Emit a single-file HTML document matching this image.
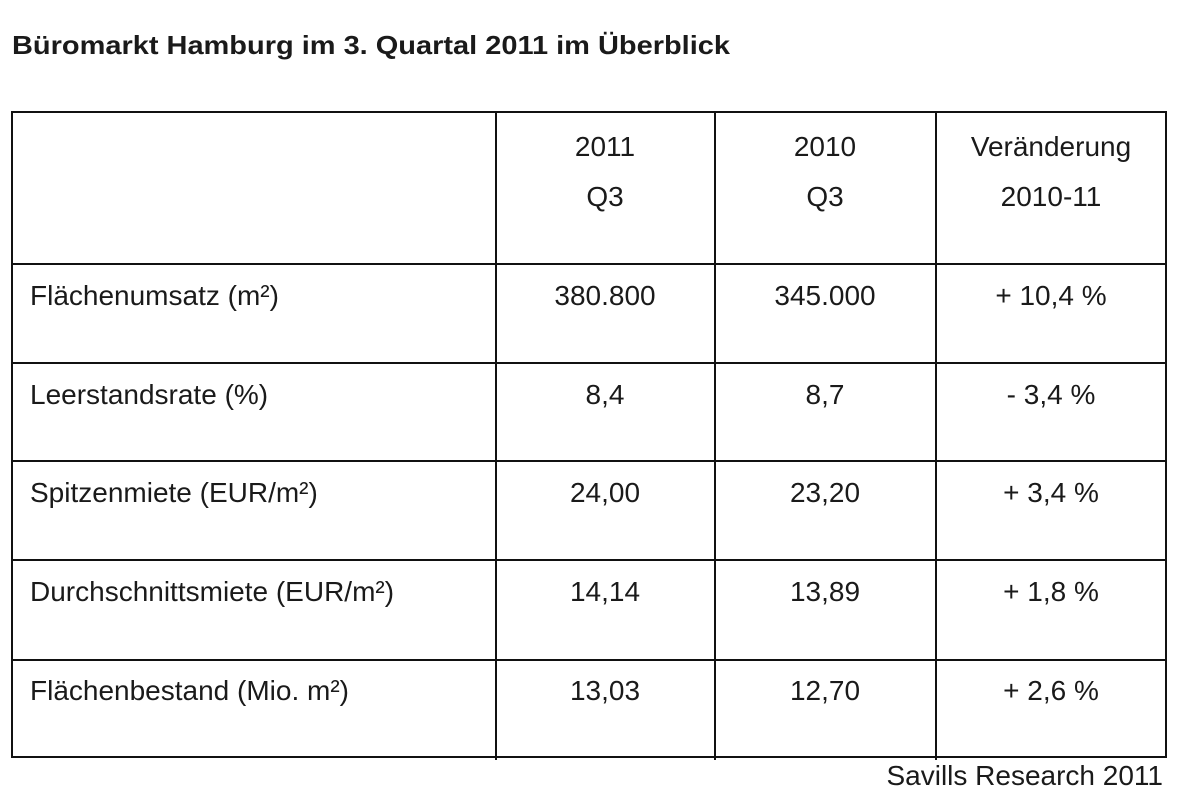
<!DOCTYPE html>
<html><head><meta charset="utf-8"><style>
html,body{margin:0;padding:0;background:#fff;}
svg{display:block;}
text{font-family:"Liberation Sans",Arial,sans-serif;fill:#1a1a1a;}
</style></head><body>
<svg width="1200" height="811" viewBox="0 0 1200 811" xmlns="http://www.w3.org/2000/svg">
<text x="12" y="54" font-size="26" font-weight="bold" textLength="718" lengthAdjust="spacingAndGlyphs">Büromarkt Hamburg im 3. Quartal 2011 im Überblick</text>
<g stroke="#111" stroke-width="2" fill="none">
<rect x="12" y="112" width="1154" height="645"/>
<line x1="496" y1="112" x2="496" y2="760"/>
<line x1="715" y1="112" x2="715" y2="760"/>
<line x1="936" y1="112" x2="936" y2="760"/>
<line x1="12" y1="264" x2="1166" y2="264"/>
<line x1="12" y1="363" x2="1166" y2="363"/>
<line x1="12" y1="461" x2="1166" y2="461"/>
<line x1="12" y1="560" x2="1166" y2="560"/>
<line x1="12" y1="660" x2="1166" y2="660"/>
</g>
<g font-size="28" text-anchor="middle">
<text x="605" y="156">2011</text><text x="605" y="206">Q3</text>
<text x="825" y="156">2010</text><text x="825" y="206">Q3</text>
<text x="1051" y="156">Veränderung</text><text x="1051" y="206">2010-11</text>
<text x="605" y="305">380.800</text><text x="825" y="305">345.000</text><text x="1051" y="305">+ 10,4 %</text>
<text x="605" y="404">8,4</text><text x="825" y="404">8,7</text><text x="1051" y="404">- 3,4 %</text>
<text x="605" y="502">24,00</text><text x="825" y="502">23,20</text><text x="1051" y="502">+ 3,4 %</text>
<text x="605" y="601">14,14</text><text x="825" y="601">13,89</text><text x="1051" y="601">+ 1,8 %</text>
<text x="605" y="700">13,03</text><text x="825" y="700">12,70</text><text x="1051" y="700">+ 2,6 %</text>
</g>
<g font-size="28">
<text x="30" y="305">Flächenumsatz (m²)</text>
<text x="30" y="404">Leerstandsrate (%)</text>
<text x="30" y="502">Spitzenmiete (EUR/m²)</text>
<text x="30" y="601">Durchschnittsmiete (EUR/m²)</text>
<text x="30" y="700">Flächenbestand (Mio. m²)</text>
</g>
<text x="1163" y="785" font-size="28" text-anchor="end">Savills Research 2011</text>
</svg>
</body></html>
